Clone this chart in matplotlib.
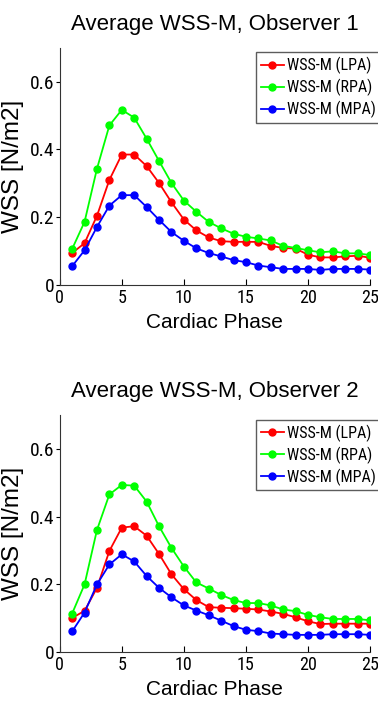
import matplotlib
matplotlib.use("Agg")
import matplotlib.pyplot as plt
from matplotlib import font_manager

names = {f.name for f in font_manager.fontManager.ttflist}
narrow = "Liberation Sans"
for cand in ["Liberation Sans Narrow", "Arial Narrow", "Roboto Condensed", "Open Sans Condensed"]:
    if cand in names:
        narrow = cand
        break
plt.rcParams['font.family'] = ['Liberation Sans', 'DejaVu Sans']

phase = list(range(1, 26))

obs1_lpa = [0.094, 0.123, 0.204, 0.310, 0.385, 0.385, 0.351, 0.301, 0.244, 0.193,
            0.161, 0.140, 0.129, 0.127, 0.127, 0.127, 0.115, 0.109, 0.107, 0.089,
            0.081, 0.081, 0.084, 0.086, 0.080]
obs1_rpa = [0.106, 0.186, 0.343, 0.471, 0.517, 0.494, 0.432, 0.366, 0.301, 0.249,
            0.216, 0.186, 0.167, 0.151, 0.142, 0.137, 0.131, 0.115, 0.109, 0.102,
            0.096, 0.099, 0.093, 0.093, 0.088]
obs1_mpa = [0.055, 0.102, 0.171, 0.234, 0.265, 0.265, 0.230, 0.192, 0.156, 0.130,
            0.108, 0.094, 0.084, 0.073, 0.067, 0.057, 0.052, 0.047, 0.047, 0.047,
            0.044, 0.047, 0.047, 0.047, 0.045]

obs2_lpa = [0.101, 0.122, 0.190, 0.299, 0.368, 0.372, 0.344, 0.290, 0.230, 0.186,
            0.154, 0.133, 0.131, 0.130, 0.128, 0.126, 0.120, 0.113, 0.103, 0.091,
            0.083, 0.084, 0.084, 0.084, 0.084]
obs2_rpa = [0.114, 0.200, 0.361, 0.466, 0.494, 0.492, 0.445, 0.372, 0.308, 0.253,
            0.206, 0.188, 0.169, 0.154, 0.145, 0.145, 0.138, 0.126, 0.121, 0.110,
            0.103, 0.098, 0.098, 0.098, 0.094]
obs2_mpa = [0.061, 0.117, 0.200, 0.259, 0.289, 0.268, 0.225, 0.190, 0.162, 0.138,
            0.123, 0.109, 0.093, 0.077, 0.066, 0.062, 0.055, 0.053, 0.051, 0.051,
            0.051, 0.053, 0.053, 0.053, 0.051]

labels = ["WSS-M (LPA)", "WSS-M (RPA)", "WSS-M (MPA)"]
colors = ["#ff0000", "#00ff00", "#0000ff"]
titles = ["Average WSS-M, Observer 1", "Average WSS-M, Observer 2"]
xticks = [0, 5, 10, 15, 20, 25]
yticks = [0, 0.2, 0.4, 0.6]
ytick_labels = ["0", "0.2", "0.4", "0.6"]

fig = plt.figure(figsize=(3.78, 7.05), dpi=100)
rects = [[0.158, 0.596, 0.821, 0.336], [0.158, 0.075, 0.821, 0.336]]
datasets = [[obs1_lpa, obs1_rpa, obs1_mpa], [obs2_lpa, obs2_rpa, obs2_mpa]]

for rect, title, series in zip(rects, titles, datasets):
    ax = fig.add_axes(rect)
    for ys, lab, c in zip(series, labels, colors):
        ax.plot(phase, ys, '-o', color=c, label=lab, lw=1.3, ms=5, mec=c)
    ax.set_xlim(0, 25)
    ax.set_ylim(0, 0.7)
    ax.set_xticks(xticks)
    ax.set_yticks(yticks)
    ax.set_yticklabels(ytick_labels)
    for lbl in ax.get_xticklabels():
        lbl.set_fontfamily(narrow)
        lbl.set_fontsize(13)
    for lbl in ax.get_yticklabels():
        lbl.set_fontfamily(narrow)
        lbl.set_fontsize(14)
    ax.tick_params(axis='x', direction='in', length=4, pad=3)
    ax.tick_params(axis='y', direction='out', length=3, pad=1)
    ax.spines['top'].set_visible(False)
    ax.spines['right'].set_visible(False)
    ax.spines['left'].set_color('#333333')
    ax.spines['bottom'].set_color('#333333')
    ax.set_title(title, fontsize=16, pad=13)
    ax.set_xlabel("Cardiac Phase", fontsize=15, labelpad=4)
    ax.set_ylabel("WSS [N/m2]", fontsize=17.5, labelpad=4)
    leg = ax.legend(loc='upper right', bbox_to_anchor=(1.035, 0.982), fontsize=11.5,
                    frameon=True, fancybox=False, handlelength=1.45, handletextpad=0.2,
                    borderpad=0.3, labelspacing=0.3, borderaxespad=0)
    leg.get_frame().set_edgecolor('#333333')
    leg.get_frame().set_linewidth(1.0)
    for t in leg.get_texts():
        t.set_fontfamily(narrow)

fig.savefig("out.png", dpi=100)
